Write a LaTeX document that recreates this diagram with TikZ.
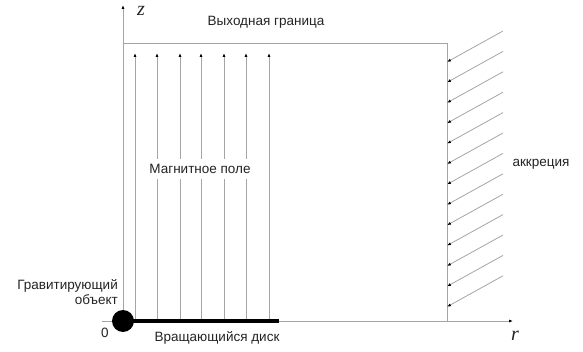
\documentclass[tikz,border=0pt]{standalone}
\usepackage{fontspec}
\setmainfont{Liberation Sans}
\newfontfamily\axisfont{Liberation Serif}
\usetikzlibrary{arrows.meta}
\definecolor{LineGray}{RGB}{165,165,165}
\definecolor{TextGray}{RGB}{35,35,35}

\begin{document}
\begin{tikzpicture}[x=1pt, y=-1pt,
    line/.style={draw=LineGray, line width=0.8pt},
    arr/.style={line, -{Latex[length=4pt, width=3pt, color=black]}},
    lbl/.style={font=\fontsize{13.5}{15}\selectfont, text=TextGray, inner sep=1pt},
    axlbl/.style={font=\axisfont\itshape\fontsize{20}{20}\selectfont, text=TextGray, inner sep=0pt}
  ]
  \useasboundingbox (0,0) rectangle (583,352);

  % Axes
  \coordinate (O) at (123,321);
  \coordinate (rstart) at (102,321);
  \coordinate (rend) at (513,321);
  \coordinate (zend) at (123,5);
  \draw[arr] (rstart) -- (rend);
  \draw[arr] (O) -- (zend);
  \node[axlbl] (zlab) at (141,11) {z};
  \node[axlbl] (rlab) at (515,336) {r};

  % Outer boundary
  \coordinate (bTL) at (123,43);
  \coordinate (bTR) at (447,43);
  \coordinate (bBR) at (447,321);
  \draw[line] (bTL) -- (bTR) -- (bBR);
  \node[lbl] (exit) at (266,22) {Выходная граница};

  % Magnetic field lines
  \foreach \i/\x in {1/135, 2/157, 3/180, 4/201, 5/224, 6/246, 7/269} {
    \coordinate (fb\i) at (\x,321);
    \coordinate (ft\i) at (\x,53);
    \draw[arr] (fb\i) -- (ft\i);
  }
  \node[lbl, fill=white, inner sep=5pt] (field) at (200,169) {Магнитное поле};

  % Accretion flow
  \foreach \i in {0,...,12} {
    \pgfmathsetmacro\yy{62+20.4*\i}
    \coordinate (at\i) at (447,\yy);
    \coordinate (as\i) at (503,\yy-31);
    \draw[arr] (as\i) -- (at\i);
  }
  \node[lbl] (accr) at (541,164) {аккреция};

  % Disk and central object
  \coordinate (diskend) at (279,321);
  \draw[line width=3.5pt] (O) -- (diskend);
  \node[circle, fill=black, minimum size=22pt, inner sep=0pt] (obj) at (O) {};
  \node[lbl, align=right, anchor=east] (grav) at (119,292) {Гравитирующий\\объект};
  \node[lbl] (zero) at (105,333) {0};
  \node[lbl] (disk) at (217,338) {Вращающийся диск};
\end{tikzpicture}
\end{document}
